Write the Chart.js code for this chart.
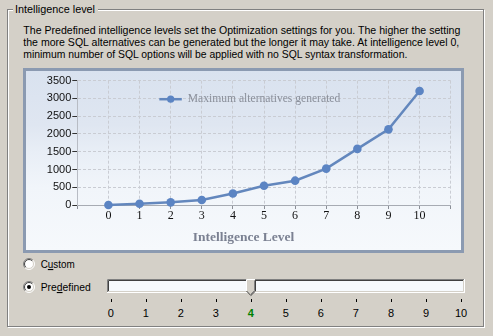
<!DOCTYPE html>
<html>
<head>
<meta charset="utf-8">
<script src="https://cdn.jsdelivr.net/npm/chart.js@4/dist/chart.umd.min.js"></script>
<style>
  html, body { margin: 0; padding: 0; width: 493px; height: 336px; overflow: hidden; background: #d4d0c8; }
  #ui { position: absolute; left: 0; top: 0; }
  #ui text { font-family: "Liberation Sans", Arial, sans-serif; font-size: 11px; fill: #000; }
  #frame {
    position: absolute; left: 23px; top: 68px; width: 441px; height: 185px;
    box-sizing: border-box; border: 3px solid #8b9ab1;
    background: linear-gradient(to bottom, #d9e2ef 0%, #dfe6f1 30%, #e8eef6 45%, #f1f5fa 65%, #f6f9fc 100%);
  }
  #chart { position: absolute; left: 0; top: 0; }
</style>
</head>
<body>
<svg id="ui" width="493" height="336"></svg>
<div id="frame"><canvas id="chart" width="435" height="179"></canvas></div>
<script>
// Intelligence level (0..10) and how many SQL alternatives each level generates
const levels = [0, 1, 2, 3, 4, 5, 6, 7, 8, 9, 10];
const maxAlternatives = [0, 35, 75, 140, 325, 540, 685, 1025, 1580, 2130, 3210];
const seriesLabel = 'Maximum alternatives generated';
const axisTitle = 'Intelligence Level';

// Slider below the chart
const sliderLabels = ['0', '1', '2', '3', '4', '5', '6', '7', '8', '9', '10'];
const selectedLevel = 4;

// Group box description text
const groupTitle = 'Intelligence level';
const descriptionLines = [
  'The Predefined intelligence levels set the Optimization settings for you. The higher the setting',
  'the more SQL alternatives can be generated but the longer it may take. At intelligence level 0,',
  'minimum number of SQL options will be applied with no SQL syntax transformation.'
];

// ---------- dialog chrome (SVG) ----------
const NS = 'http://www.w3.org/2000/svg';
const svg = document.getElementById('ui');
function el(tag, attrs, parent) {
  const e = document.createElementNS(NS, tag);
  for (const k in attrs) e.setAttribute(k, attrs[k]);
  (parent || svg).appendChild(e);
  return e;
}
function text(x, y, str, attrs) {
  const t = el('text', Object.assign({ x: x, y: y }, attrs || {}));
  t.textContent = str;
  return t;
}

// etched group box
el('rect', { x: 8.5, y: 10.5, width: 476, height: 317, fill: 'none', stroke: '#ffffff' });
el('rect', { x: 7.5, y: 9.5, width: 476, height: 317, fill: 'none', stroke: '#808080' });
el('rect', { x: 13, y: 2, width: 85, height: 14, fill: '#d4d0c8' });
text(15, 13, groupTitle, { textLength: 80, lengthAdjust: 'spacingAndGlyphs' });

const lineWidths = [437, 436, 384];
descriptionLines.forEach((s, i) => {
  text(23.3, 33.5 + i * 12, s, { textLength: lineWidths[i], lengthAdjust: 'spacingAndGlyphs' });
});

// classic radio buttons
function radio(cx, cy, checked) {
  const arc = (r, color, upperLeft) => {
    const d = r * Math.SQRT1_2;
    const p = upperLeft
      ? `M ${cx - d} ${cy + d} A ${r} ${r} 0 0 1 ${cx + d} ${cy - d}`
      : `M ${cx + d} ${cy - d} A ${r} ${r} 0 0 1 ${cx - d} ${cy + d}`;
    el('path', { d: p, fill: 'none', stroke: color, 'stroke-width': 1 });
  };
  el('circle', { cx: cx, cy: cy, r: 5, fill: '#ffffff' });
  arc(5.5, '#808080', true);
  arc(5.5, '#ffffff', false);
  arc(4.5, '#404040', true);
  arc(4.5, '#d4d0c8', false);
  if (checked) el('circle', { cx: cx, cy: cy, r: 2, fill: '#000000' });
}
radio(29, 264, false);
radio(29, 287, true);

function labelWithAccel(x, y, before, key, after, width) {
  const t = el('text', { x: x, y: y, textLength: width, lengthAdjust: 'spacingAndGlyphs' });
  const a = el('tspan', {}, t); a.textContent = before;
  const b = el('tspan', { 'text-decoration': 'underline' }, t); b.textContent = key;
  const c = el('tspan', {}, t); c.textContent = after;
}
labelWithAccel(40.7, 268, 'C', 'u', 'stom', 34);
labelWithAccel(40.7, 291, 'Pre', 'd', 'efined', 50);

// trackbar channel (sunken)
const trackL = 107, trackR = 465, trackT = 279, trackB = 293;
el('rect', { x: trackL, y: trackT, width: trackR - trackL, height: trackB - trackT, fill: '#f6f9fc' });
el('path', { d: `M ${trackL + 0.5} ${trackB} V ${trackT + 0.5} H ${trackR}`, fill: 'none', stroke: '#808080' });
el('path', { d: `M ${trackL + 1.5} ${trackB - 1} V ${trackT + 1.5} H ${trackR - 1}`, fill: 'none', stroke: '#404040' });
el('path', { d: `M ${trackL} ${trackB - 0.5} H ${trackR - 0.5} V ${trackT}`, fill: 'none', stroke: '#ffffff' });
el('path', { d: `M ${trackL + 1} ${trackB - 1.5} H ${trackR - 1.5} V ${trackT + 1}`, fill: 'none', stroke: '#d4d0c8' });

// slider ticks and labels
const tick0 = 110.7, tickStep = (461 - 110.7) / (sliderLabels.length - 1);
sliderLabels.forEach((lab, i) => {
  const x = Math.round(tick0 + i * tickStep) + 0.5;
  el('line', { x1: x, y1: 299, x2: x, y2: 302, stroke: '#000000' });
  const sel = Number(lab) === selectedLevel;
  text(tick0 + i * tickStep, 317, lab, {
    'text-anchor': 'middle',
    style: sel ? 'font-weight:bold;fill:#008000' : ''
  });
});

// slider thumb
const tx = tick0 + selectedLevel * tickStep;
const thumbL = Math.round(tx) - 4.5, thumbR = Math.round(tx) + 4.5;
el('path', {
  d: `M ${thumbL} 279.5 H ${thumbR} V 291 L ${tx} 295.5 L ${thumbL} 291 Z`,
  fill: '#d4d0c8', stroke: 'none'
});
el('path', { d: `M ${thumbL} 291 V 279.5 H ${thumbR}`, fill: 'none', stroke: '#ffffff' });
el('path', { d: `M ${thumbR} 279.5 V 291 L ${tx} 295.5`, fill: 'none', stroke: '#404040' });
el('path', { d: `M ${thumbR - 1} 280.5 V 290.5 L ${tx} 294.2`, fill: 'none', stroke: '#808080' });
el('path', { d: `M ${thumbL} 291 L ${tx} 295.5`, fill: 'none', stroke: '#404040' });

// ---------- chart ----------
// legend drawn inside the plot area, over the grid
const insideLegend = {
  id: 'insideLegend',
  afterDatasetsDraw(chart) {
    const { ctx, chartArea } = chart;
    const ds = chart.data.datasets[0];
    const x0 = chartArea.left + 82, y = chartArea.top + 18.5;
    ctx.save();
    ctx.strokeStyle = ds.borderColor;
    ctx.lineWidth = 2.5;
    ctx.beginPath();
    ctx.moveTo(x0, y);
    ctx.lineTo(x0 + 22.5, y);
    ctx.stroke();
    ctx.fillStyle = ds.pointBackgroundColor;
    ctx.beginPath();
    ctx.arc(x0 + 11.4, y, 3.6, 0, Math.PI * 2);
    ctx.fill();
    ctx.font = '11.6px "Liberation Serif", serif';
    ctx.fillStyle = '#8a8f9a';
    ctx.textBaseline = 'middle';
    ctx.fillText(ds.label, x0 + 28.4, y);
    ctx.restore();
  }
};

Chart.defaults.font.family = '"Liberation Serif", serif';

new Chart(document.getElementById('chart'), {
  type: 'line',
  data: {
    datasets: [{
      label: seriesLabel,
      data: levels.map((lv, i) => ({ x: lv, y: maxAlternatives[i] })),
      borderColor: '#6387bd',
      backgroundColor: '#5b84c3',
      pointBackgroundColor: '#5b84c3',
      pointBorderColor: '#5b84c3',
      pointBorderWidth: 0,
      pointRadius: 4.3,
      borderWidth: 2.5,
      tension: 0,
      clip: false
    }]
  },
  options: {
    responsive: false,
    animation: false,
    devicePixelRatio: 1,
    layout: { padding: { top: 9.7, left: 0, right: 0, bottom: 0 } },
    plugins: {
      legend: { display: false },
      tooltip: { enabled: false },
      title: {
        display: true,
        text: axisTitle,
        position: 'bottom',
        color: '#7b8192',
        font: { family: '"Liberation Serif", serif', size: 13.5, weight: 'bold' },
        padding: { top: 5, bottom: 4 }
      }
    },
    scales: {
      x: {
        type: 'linear',
        min: -1,
        max: 11,
        afterFit(s) { s.height = 19.8; },
        ticks: {
          stepSize: 1,
          autoSkip: false,
          maxRotation: 0,
          padding: 0,
          color: '#111111',
          font: { family: '"Liberation Serif", serif', size: 12 },
          callback: (v) => (v >= levels[0] && v <= levels[levels.length - 1]) ? String(v) : ''
        },
        grid: { color: '#c9ccd3', tickLength: 4, tickColor: '#8a8e96' },
        border: { color: '#a7abb3', dash: [3, 2] }
      },
      y: {
        min: 0,
        max: 3500,
        afterFit(s) { s.width = 51.3; },
        ticks: {
          stepSize: 500,
          padding: 1,
          color: '#111111',
          font: { family: '"Liberation Sans", Arial, sans-serif', size: 11 },
          callback: (v) => String(v)
        },
        grid: { color: '#c9ccd3', tickLength: 5, tickColor: '#333333' },
        border: { color: '#b8bcc4', dash: [3, 2] }
      },
      y2: {
        position: 'right',
        display: true,
        afterFit(s) { s.width = 10.3; },
        ticks: { display: false },
        grid: { display: false },
        border: { display: false }
      }
    }
  },
  plugins: [insideLegend]
});
</script>
</body>
</html>
